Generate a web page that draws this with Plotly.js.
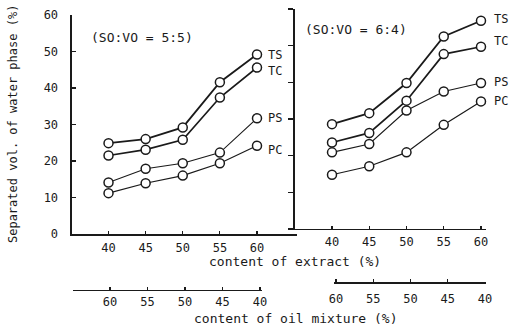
<!DOCTYPE html>
<html>
<head>
<meta charset="utf-8">
<script src="https://cdn.plot.ly/plotly-3.0.1.min.js"></script>
<style>html,body{margin:0;padding:0;background:#fff;}#chart{width:522px;height:325px;}</style>
</head>
<body>
<div id="chart"></div>
<script>
// ---- data ----
const extract = [40, 45, 50, 55, 60];
const oilTicks = [60, 55, 50, 45, 40];
const yTicks = [0, 10, 20, 30, 40, 50, 60];
const seriesNames = ["TS", "TC", "PS", "PC"];

// panel 1 (SO:VO = 5:5)
const p1_TS = [24.9, 26.0, 29.2, 41.6, 49.2];
const p1_TC = [21.5, 23.1, 25.8, 37.4, 45.6];
const p1_PS = [14.1, 17.9, 19.4, 22.3, 31.7];
const p1_PC = [11.2, 13.9, 16.0, 19.4, 24.2];

// panel 2 (SO:VO = 6:4)
const p2_TS = [28.6, 31.6, 39.8, 52.5, 56.8];
const p2_TC = [23.6, 26.2, 35.0, 47.7, 49.7];
const p2_PS = [20.9, 23.2, 32.3, 37.5, 39.8];
const p2_PC = [14.8, 17.1, 20.9, 28.4, 34.8];

const panelTitles = ["(SO:VO = 5:5)", "(SO:VO = 6:4)"];
const xTitle = "content of extract (%)";
const oilTitle = "content of oil mixture (%)";
const yTitle = "Separated vol. of water phase (%)";

// ---- styling ----
const ink = "#1a1a1a";
const FONT = "DejaVu Sans Mono, monospace";
const widths = {TS: 1.8, TC: 1.7, PS: 1.1, PC: 1.2};

const p1 = {TS: p1_TS, TC: p1_TC, PS: p1_PS, PC: p1_PC};
const p2 = {TS: p2_TS, TC: p2_TC, PS: p2_PS, PC: p2_PC};

const traces = [];
function addPanel(data, xa, ya) {
  seriesNames.forEach(n => {
    traces.push({
      x: extract, y: data[n], xaxis: xa, yaxis: ya, type: "scatter",
      mode: "lines+markers", name: n, showlegend: false, hoverinfo: "skip",
      line: {color: ink, width: widths[n]},
      marker: {symbol: "circle", size: 9, color: "#fff", line: {color: ink, width: 1.5}},
      cliponaxis: false
    });
  });
}
addPanel(p1, "x", "y");
addPanel(p2, "x2", "y2");
// invisible carriers for the oil-mixture axes
traces.push({x: oilTicks, y: oilTicks.map(() => null), xaxis: "x3", yaxis: "y",
  mode: "markers", showlegend: false, hoverinfo: "skip", marker: {opacity: 0}});
traces.push({x: oilTicks, y: oilTicks.map(() => null), xaxis: "x4", yaxis: "y2",
  mode: "markers", showlegend: false, hoverinfo: "skip", marker: {opacity: 0}});

const tickFont = {family: FONT, size: 12, color: ink};
const baseX = {
  showgrid: false, zeroline: false, showline: true, linecolor: ink, linewidth: 1.5,
  ticks: "inside", ticklen: 3, tickwidth: 1.2, tickcolor: ink, tickfont: tickFont,
  tickmode: "array", fixedrange: true
};

const layout = {
  width: 522, height: 325,
  margin: {l: 0, r: 0, t: 0, b: 0, pad: 0},
  paper_bgcolor: "#fff", plot_bgcolor: "rgba(0,0,0,0)",
  font: {family: FONT, color: ink},
  xaxis: Object.assign({}, baseX, {domain: [0.1379, 0.569], range: [35.08, 65.39],
    anchor: "y", tickvals: extract, ticktext: extract.map(String), ticklabelstandoff: 2}),
  yaxis: {domain: [0.28, 0.9538], range: [0, 60], anchor: "x", showgrid: false, zeroline: false,
    showline: true, linecolor: ink, linewidth: 1.5, ticks: "inside", ticklen: 4, tickwidth: 1.2,
    tickcolor: ink, tickfont: tickFont, tickmode: "array", tickvals: yTicks,
    ticktext: yTicks.map(String), ticklabelstandoff: 10, fixedrange: true},
  xaxis2: Object.assign({}, baseX, {domain: [0.5651, 0.931], range: [35.03, 60.67],
    anchor: "y2", tickvals: extract, ticktext: extract.map(String), ticklabelstandoff: 1}),
  yaxis2: {domain: [0.2954, 0.9723], range: [0, 60], anchor: "x2", showgrid: false, zeroline: false,
    showline: true, linecolor: ink, linewidth: 1.5, ticks: "outside", ticklen: 5, tickwidth: 1.2,
    tickcolor: ink, showticklabels: false, tickmode: "array", tickvals: yTicks, fixedrange: true},
  xaxis3: Object.assign({}, baseX, {domain: [0.1398, 0.5019], range: [64.93, 39.73],
    anchor: "free", position: 0.1077, side: "bottom",
    tickvals: oilTicks, ticktext: oilTicks.map(String), ticklabelstandoff: 0}),
  xaxis4: Object.assign({}, baseX, {domain: [0.6398, 0.931], range: [60.27, 39.87],
    anchor: "free", position: 0.1323, side: "bottom",
    tickvals: oilTicks, ticktext: oilTicks.map(String), ticklabelstandoff: 5}),
  annotations: []
};

const A = layout.annotations;
function txt(text, x, y, size, opts) {
  A.push(Object.assign({text: text, x: x, y: y, xref: "paper", yref: "paper", showarrow: false,
    font: {family: FONT, size: size, color: ink}, xanchor: "center", yanchor: "middle"}, opts || {}));
}
txt(panelTitles[0], 0.272, 0.886, 13);
txt(panelTitles[1], 0.682, 0.908, 13);
txt(xTitle, 0.565, 0.194, 13);
txt(oilTitle, 0.567, 0.02, 13);
txt(yTitle, 0.025, 0.6185, 12, {textangle: -90});

// series labels next to the last point of each line
const lastIdx = extract.length - 1;
const p1Shift = {TS: -1, TC: -3, PS: 0, PC: -4};
const p2Shift = {TS: 2, TC: 6, PS: 1, PC: 0};
seriesNames.forEach(n => {
  A.push({text: n, x: extract[lastIdx], y: p1[n][lastIdx], xref: "x", yref: "y", showarrow: false,
    xanchor: "left", xshift: 9, yshift: p1Shift[n], font: {family: FONT, size: 12, color: ink}});
  A.push({text: n, x: extract[lastIdx], y: p2[n][lastIdx], xref: "x2", yref: "y2", showarrow: false,
    xanchor: "left", xshift: 11, yshift: p2Shift[n], font: {family: FONT, size: 12, color: ink}});
});

Plotly.newPlot("chart", traces, layout, {displayModeBar: false, staticPlot: true});
</script>
</body>
</html>
